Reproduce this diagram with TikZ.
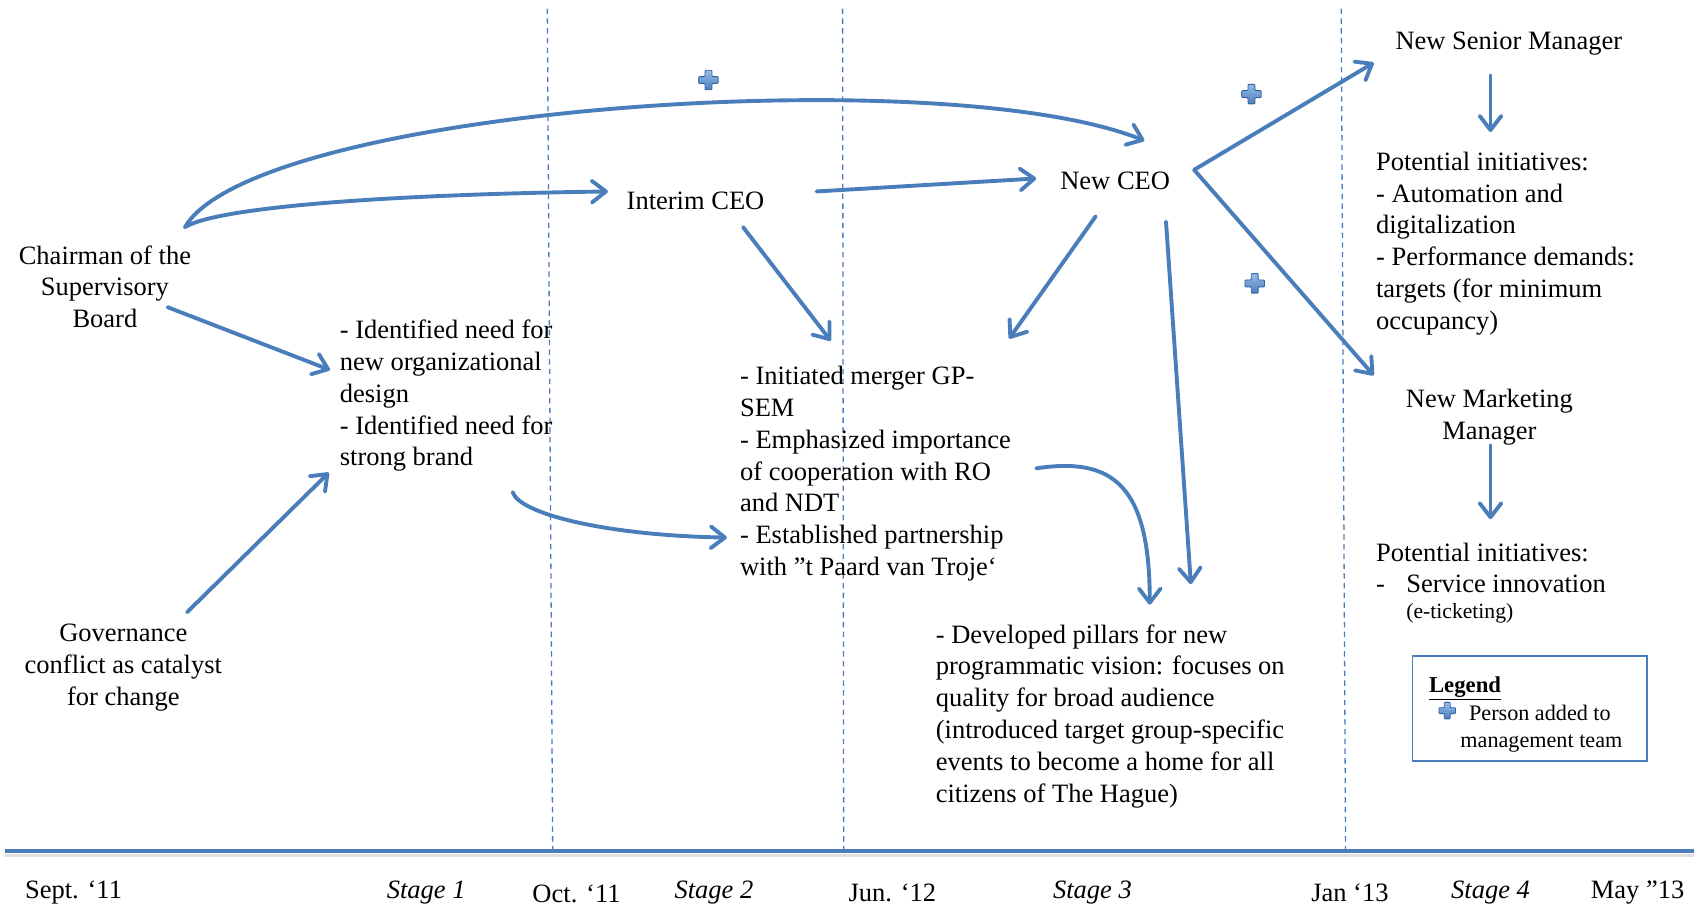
\documentclass[tikz,border=0pt]{standalone}
\usepackage{fontspec}
\setmainfont{Liberation Serif}
\usetikzlibrary{arrows.meta}
\definecolor{arrblue}{RGB}{74,126,187}
\definecolor{plusdark}{RGB}{52,98,160}
\definecolor{pluslight}{RGB}{150,188,235}
\tikzset{
  plusicon/.pic={
    \path[draw=plusdark, line width=0.8pt, top color=pluslight, bottom color=arrblue, rounded corners=0.8pt]
      (-3.2,-9) -- (3.2,-9) -- (3.2,-3.2) -- (9,-3.2) -- (9,3.2) -- (3.2,3.2) -- (3.2,9) -- (-3.2,9)
      -- (-3.2,3.2) -- (-9,3.2) -- (-9,-3.2) -- (-3.2,-3.2) -- cycle;
  }
}
\begin{document}
\begin{tikzpicture}[x=1pt,y=-1pt,
  txt/.style={inner sep=0pt, font=\fontsize{24.5}{29.4}\selectfont},
  lbl/.style={txt, align=left, anchor=west},
  ctr/.style={txt, align=center},
  conn/.style={draw=arrblue, line width=3.6pt, line cap=round,
    -{Straight Barb[round, length=13pt, width=20pt]}},
  vdash/.style={draw=arrblue, line width=1.2pt, dash pattern=on 5pt off 4pt},
]
\useasboundingbox (0,0) rectangle (1568,839);

% time axis and stage separators
\coordinate (axL) at (5,787);
\coordinate (axR) at (1566,787);
\draw[black!12, line width=3pt] (5,791) -- (1566,791);
\draw[arrblue, line width=4pt] (axL) -- (axR);
\coordinate (d1t) at (506,8);  \coordinate (d1b) at (511,787);
\coordinate (d2t) at (779,8);  \coordinate (d2b) at (780,787);
\coordinate (d3t) at (1240,8); \coordinate (d3b) at (1244,787);
\draw[vdash] (d1t) -- (d1b);
\draw[vdash] (d2t) -- (d2b);
\draw[vdash] (d3t) -- (d3b);

% axis labels
\node[ctr] (sept) at (68,825) {Sept. ‘11};
\node[ctr] (st1) at (394,825) {\itshape Stage 1};
\node[ctr] (oct) at (533,826) {Oct. ‘11};
\node[ctr] (st2) at (660,825) {\itshape Stage 2};
\node[ctr] (jun) at (825,825) {Jun. ‘12};
\node[ctr] (st3) at (1010,825) {\itshape Stage 3};
\node[ctr] (jan) at (1248,825) {Jan ‘13};
\node[ctr] (st4) at (1378,825) {\itshape Stage 4};
\node[ctr] (may) at (1514,825) {May ”13};

% text nodes
\node[ctr] (chair) at (97,265) {Chairman of the\\Supervisory\\Board};
\node[ctr] (gov) at (114,617) {Governance\\conflict as catalyst\\for change};
\node[lbl] (need) at (314,366) {- Identified need for\\new organizational\\design\\- Identified need for\\strong brand};
\node[ctr] (interim) at (643,186) {Interim CEO};
\node[ctr] (newceo) at (1031,167) {New CEO};
\node[ctr] (nsm) at (1395,40) {New Senior Manager};
\node[lbl] (pot1) at (1272,225) {Potential initiatives:\\- Automation and\\digitalization\\- Performance demands:\\targets (for minimum\\occupancy)};
\node[ctr] (nmm) at (1377,386) {New Marketing\\Manager};
\node[lbl] (pot2) at (1272,525) {Potential initiatives:\\\makebox[28pt][l]{-}Service innovation};
\node[lbl, font=\fontsize{20}{24}\selectfont] (etick) at (1300,567) {(e-ticketing)};
\node[lbl] (merger) at (684,438) {- Initiated merger GP-\\SEM\\- Emphasized importance\\of cooperation with RO\\and NDT\\- Established partnership\\with ”t Paard van Troje‘};
\node[lbl] (pillars) at (865,662) {- Developed pillars for new\\programmatic vision: focuses on\\quality for broad audience\\(introduced target group-specific\\events to become a home for all\\citizens of The Hague)};

% legend
\node[draw=arrblue, line width=1.2pt, minimum width=217pt, minimum height=97pt, inner sep=0pt, anchor=north west] (legendbox) at (1305,606) {};
\node[lbl, font=\fontsize{21}{25}\selectfont\bfseries] (legendtitle) at (1321,636) {\underline{Legend}};
\node[lbl, font=\fontsize{20.5}{25}\selectfont] (legendtext) at (1350,673.5) {\hspace*{8pt}Person added to\\management team};

% plus icons
\pic at (655,74) {plusicon};
\pic at (1157,87) {plusicon};
\pic at (1160,262) {plusicon};
\pic[scale=0.85] at (1338,657) {plusicon};

% connector end points
\coordinate (chairA) at (171,210);
\coordinate (newceoIn) at (1058,130);
\coordinate (interimIn) at (562,177);
\coordinate (interimOut) at (755,177);
\coordinate (newceoL) at (958,165);
\coordinate (newceoR) at (1104,157);
\coordinate (nsmIn) at (1270,58);
\coordinate (nmmIn) at (1270,347);
\coordinate (nsmOut) at (1378,70);
\coordinate (pot1In) at (1378,122);
\coordinate (nmmOut) at (1378,412);
\coordinate (pot2In) at (1378,480);
\coordinate (interimDn) at (687,210);
\coordinate (mergerIn1) at (768,315);
\coordinate (newceoDn1) at (1013,200);
\coordinate (mergerIn2) at (933,313);
\coordinate (newceoDn2) at (1078,205);
\coordinate (pillarsIn1) at (1101,540);
\coordinate (mergerOut) at (958,433);
\coordinate (pillarsIn2) at (1063,559);
\coordinate (chairB) at (155,284);
\coordinate (needIn1) at (305,342);
\coordinate (govOut) at (173,566);
\coordinate (needIn2) at (304,437);
\coordinate (needOut) at (474,455);
\coordinate (mergerIn3) at (672,497);

% connectors
\draw[conn] (chairA) .. controls (235,100) and (870,55) .. (newceoIn);
\draw[conn] (chairA) .. controls (200,192) and (350,180) .. (interimIn);
\draw[conn] (interimOut) -- (newceoL);
\draw[conn] (newceoR) -- (nsmIn);
\draw[conn] (newceoR) -- (nmmIn);
\draw[conn] (nsmOut) -- (pot1In);
\draw[conn] (nmmOut) -- (pot2In);
\draw[conn] (interimDn) -- (mergerIn1);
\draw[conn] (newceoDn1) -- (mergerIn2);
\draw[conn] (newceoDn2) -- (pillarsIn1);
\draw[conn] (mergerOut) .. controls (1030,422) and (1063,450) .. (pillarsIn2);
\draw[conn] (chairB) -- (needIn1);
\draw[conn] (govOut) -- (needIn2);
\draw[conn] (needOut) .. controls (480,475) and (560,495) .. (mergerIn3);
\end{tikzpicture}
\end{document}
